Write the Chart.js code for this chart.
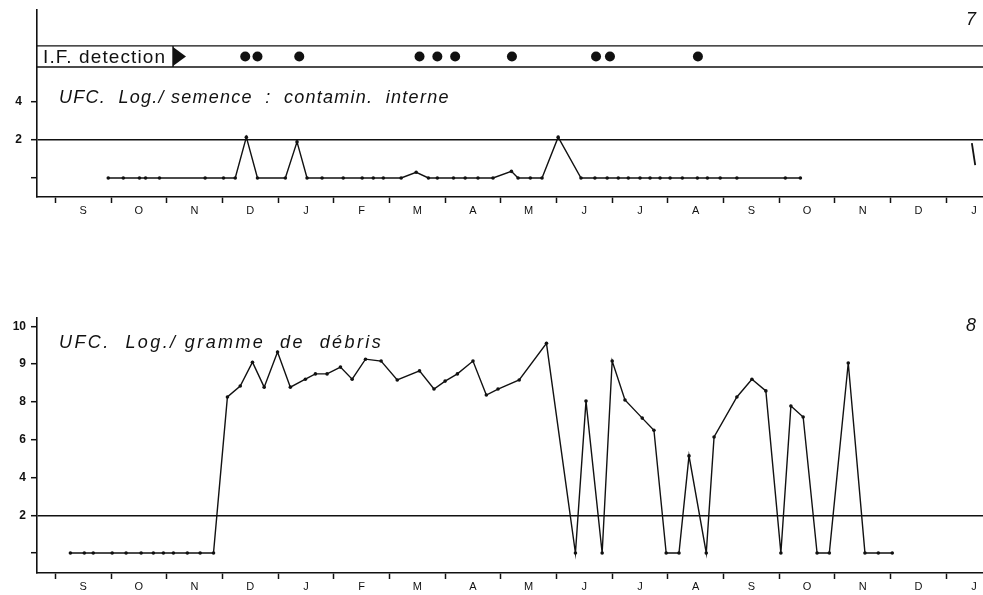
<!DOCTYPE html>
<html>
<head>
<meta charset="utf-8">
<script src="https://cdn.jsdelivr.net/npm/chart.js@4.4.0/dist/chart.umd.min.js"></script>
<style>
    html, body { margin: 0; padding: 0; background: #fff; }
    #wrap { position: relative; width: 983px; height: 595px; }
    canvas { position: absolute; left: 0; }
    #seedChart { top: 0; }
    #debrisChart { top: 300px; }
</style>
</head>
<body>
<div id="wrap">
    <canvas id="seedChart" width="983" height="225"></canvas>
    <canvas id="debrisChart" width="983" height="295"></canvas>
</div>
<script>
// month labels, one per month, starting in September
const months = ['S', 'O', 'N', 'D', 'J', 'F', 'M', 'A', 'M', 'J', 'J', 'A', 'S', 'O', 'N', 'D', 'J'];

// x positions are in months counted from the start of the first S
// panel 7 : UFC log / seed (internal contamination)
const seedPos = [0.95, 1.22, 1.51, 1.62, 1.87, 2.69, 3.02, 3.23, 3.43, 3.63,
    4.13, 4.34, 4.52, 4.79, 5.17, 5.51, 5.71, 5.89, 6.21, 6.48,
    6.70, 6.86, 7.15, 7.36, 7.59, 7.86, 8.19, 8.31, 8.53, 8.74,
    9.03, 9.44, 9.69, 9.91, 10.11, 10.29, 10.50, 10.68, 10.86, 11.04,
    11.26, 11.53, 11.71, 11.94, 12.24, 13.11, 13.38];
const seedValues = [0, 0, 0, 0, 0, 0, 0, 0, 2.15, 0,
    0, 1.9, 0, 0, 0, 0, 0, 0, 0, 0.3,
    0, 0, 0, 0, 0, 0, 0.35, 0, 0, 0,
    2.15, 0, 0, 0, 0, 0, 0, 0, 0, 0,
    0, 0, 0, 0, 0, 0, 0];
// small stroke at the right edge
const seedTailPos = [16.46, 16.52];
const seedTailValues = [1.84, 0.68];
// I.F. detection events
const ifDetectionPos = [3.41, 3.63, 4.38, 6.54, 6.86, 7.18, 8.20, 9.71, 9.96, 11.54];
const seedTicks = [0, 2, 4];
const seedTickLabels = ['', '2', '4'];

// panel 8 : UFC log / gram of debris
const debrisPos = [0.27, 0.52, 0.68, 1.02, 1.27, 1.54, 1.76, 1.94, 2.12, 2.37, 2.60, 2.84,
    3.09, 3.32, 3.54, 3.75, 3.99, 4.22, 4.49, 4.67, 4.88, 5.12,
    5.33, 5.57, 5.85, 6.14, 6.54, 6.80, 7.00, 7.22, 7.50, 7.74,
    7.95, 8.33, 8.82, 9.34, 9.53, 9.82, 10.00, 10.23, 10.54, 10.75,
    10.97, 11.20, 11.38, 11.69, 11.83, 12.24, 12.51, 12.76, 13.03, 13.21,
    13.43, 13.68, 13.90, 14.24, 14.54, 14.78, 15.03];
const debrisValues = [0, 0, 0, 0, 0, 0, 0, 0, 0, 0, 0, 0,
    8.13, 8.42, 9.05, 8.39, 9.32, 8.39, 8.6, 8.74, 8.74, 8.92,
    8.6, 9.13, 9.08, 8.58, 8.82, 8.34, 8.55, 8.74, 9.08, 8.18,
    8.34, 8.58, 9.55, 0, 8.02, 0, 9.08, 8.05, 7.14, 6.5,
    0, 0, 5.14, 0, 6.14, 8.13, 8.6, 8.29, 0, 7.78,
    7.2, 0, 0, 9.03, 0, 0, 0];
// the debris axis is evenly spaced but not linear
const debrisSteps = [0, 2, 4, 6, 8, 9, 10];
const debrisTickLabels = ['', '2', '4', '6', '8', '9', '10'];

const X_MIN = -0.33, X_MAX = 16.66;
const INK = '#111';
const FONT = "'Liberation Sans', Arial, sans-serif";

function ladderPos(v) {
    for (let i = 1; i < debrisSteps.length; i++) {
        if (v <= debrisSteps[i]) {
            return (i - 1) + (v - debrisSteps[i - 1]) / (debrisSteps[i] - debrisSteps[i - 1]);
        }
    }
    return debrisSteps.length - 1;
}

function points(xs, ys, map) {
    return xs.map((x, i) => ({ x: x, y: map ? map(ys[i]) : ys[i] }));
}

function xAxis(height) {
    return {
        type: 'linear',
        min: X_MIN,
        max: X_MAX,
        afterBuildTicks: scale => {
            const t = [];
            for (let i = 0; i < months.length; i++) {
                t.push({ value: i });
                t.push({ value: i + 0.5 });
            }
            scale.ticks = t.filter(k => k.value <= X_MAX);
        },
        afterFit: scale => {
            scale.height = height;
            scale.paddingLeft = 0;
            scale.paddingRight = 0;
        },
        grid: {
            drawOnChartArea: false,
            tickLength: 6,
            tickWidth: 1.5,
            tickColor: ctx => (ctx.tick && Number.isInteger(ctx.tick.value)) ? INK : 'rgba(0,0,0,0)'
        },
        border: { display: true, color: INK, width: 1.6 },
        ticks: {
            autoSkip: false,
            maxRotation: 0,
            padding: 1,
            color: INK,
            font: { family: FONT, size: 11 },
            callback: v => Number.isInteger(v) ? '' : months[Math.floor(v)]
        }
    };
}

function yAxis(min, max, tickVals, labels, line, pad) {
    return {
        type: 'linear',
        min: min,
        max: max,
        afterBuildTicks: scale => { scale.ticks = tickVals.map(v => ({ value: v })); },
        afterFit: scale => {
            scale.width = 37;
            scale.paddingTop = 0;
            scale.paddingBottom = 0;
        },
        grid: {
            tickLength: 6,
            tickWidth: 1.5,
            tickColor: INK,
            lineWidth: 1.4,
            color: ctx => (ctx.tick && ctx.tick.value === line) ? INK : 'rgba(0,0,0,0)'
        },
        border: { display: true, color: INK, width: 1.6 },
        ticks: {
            padding: pad,
            color: INK,
            font: { family: FONT, size: 12, weight: 'bold' },
            callback: (v, i) => labels[i]
        }
    };
}

// texts drawn on top of each panel
const notesPlugin = {
    id: 'notes',
    afterDraw(chart, args, opts) {
        const ctx = chart.ctx;
        const area = chart.chartArea;
        ctx.save();
        ctx.fillStyle = INK;
        ctx.strokeStyle = INK;
        ctx.textBaseline = 'middle';
        // panel title
        ctx.font = 'italic 18px ' + FONT;
        ctx.letterSpacing = opts.spacing;
        ctx.textAlign = 'left';
        ctx.fillText(opts.title, area.left + 22, opts.titleY);
        // panel number
        ctx.letterSpacing = '0px';
        ctx.font = 'italic 18px ' + FONT;
        ctx.textAlign = 'right';
        ctx.fillText(opts.number, 976, opts.numberY);
        // I.F. detection label box
        if (opts.band) {
            const y = chart.scales.y;
            const top = y.getPixelForValue(opts.band[1]);
            const bot = y.getPixelForValue(opts.band[0]);
            const boxRight = area.left + 136;
            ctx.lineWidth = 1.4;
            ctx.beginPath();
            ctx.moveTo(boxRight, top);
            ctx.lineTo(boxRight, bot);
            ctx.stroke();
            ctx.beginPath();
            ctx.moveTo(boxRight, top + 1);
            ctx.lineTo(boxRight + 13, (top + bot) / 2);
            ctx.lineTo(boxRight, bot - 1);
            ctx.closePath();
            ctx.fill();
            ctx.font = '19px ' + FONT;
            ctx.letterSpacing = '1.1px';
            ctx.textAlign = 'left';
            ctx.fillText('I.F. detection', area.left + 6, (top + bot) / 2 + 1);
        }
        ctx.restore();
    }
};

function lineSet(data, extra) {
    return Object.assign({
        data: data,
        borderColor: INK,
        backgroundColor: INK,
        borderWidth: 1.4,
        pointRadius: 1.8,
        pointBorderWidth: 0,
        pointBackgroundColor: INK,
        tension: 0,
        fill: false
    }, extra || {});
}

const BAND = [5.84, 6.95];

new Chart(document.getElementById('seedChart').getContext('2d'), {
    type: 'line',
    data: {
        datasets: [
            lineSet(points(seedPos, seedValues)),
            lineSet(points(seedTailPos, seedTailValues), { pointRadius: 0, borderWidth: 1.8 }),
            lineSet([{ x: X_MIN, y: BAND[1] }, { x: X_MAX, y: BAND[1] }], { pointRadius: 0, borderWidth: 1.4 }),
            lineSet([{ x: X_MIN, y: BAND[0] }, { x: X_MAX, y: BAND[0] }], { pointRadius: 0, borderWidth: 1.4 }),
            lineSet(ifDetectionPos.map(x => ({ x: x, y: (BAND[0] + BAND[1]) / 2 })), { showLine: false, pointRadius: 5 })
        ]
    },
    options: {
        responsive: false,
        animation: false,
        layout: { autoPadding: false, padding: { top: 10, right: 0, left: 0, bottom: 0 } },
        plugins: {
            legend: { display: false },
            tooltip: { enabled: false },
            notes: {
                title: 'UFC.  Log./ semence  :  contamin.  interne',
                spacing: '1.25px',
                titleY: 98,
                number: '7',
                numberY: 20,
                band: BAND
            }
        },
        scales: {
            x: xAxis(28),
            y: yAxis(-1, 8.84, seedTicks, seedTickLabels, 2, 9)
        }
    },
    plugins: [notesPlugin]
});

new Chart(document.getElementById('debrisChart').getContext('2d'), {
    type: 'line',
    data: {
        datasets: [
            lineSet(points(debrisPos, debrisValues, ladderPos))
        ]
    },
    options: {
        responsive: false,
        animation: false,
        layout: { autoPadding: false, padding: { top: 18, right: 0, left: 0, bottom: 0 } },
        plugins: {
            legend: { display: false },
            tooltip: { enabled: false },
            notes: {
                title: 'UFC.  Log./ gramme  de  débris',
                spacing: '2.4px',
                titleY: 43,
                number: '8',
                numberY: 26
            }
        },
        scales: {
            x: xAxis(22),
            y: yAxis(-0.53, 6.22, debrisSteps.map((s, i) => i), debrisTickLabels, 1, 5)
        }
    },
    plugins: [notesPlugin]
});
</script>
</body>
</html>
